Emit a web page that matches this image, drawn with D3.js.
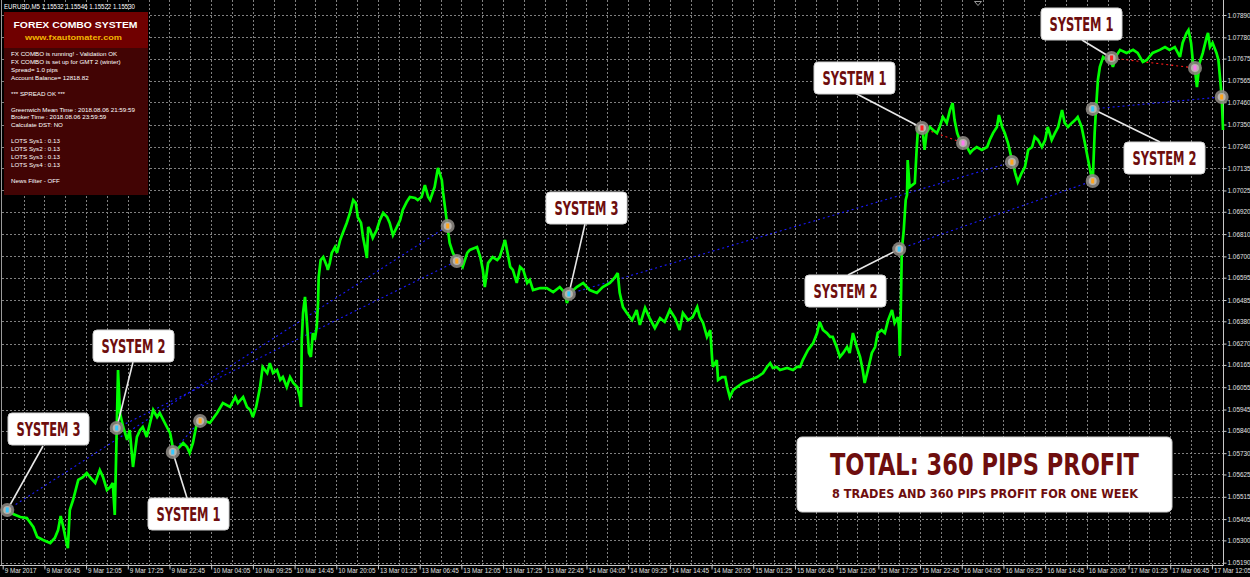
<!DOCTYPE html>
<html><head><meta charset="utf-8">
<script src="https://cdn.jsdelivr.net/npm/d3@7"></script>
<style>
html,body{margin:0;padding:0;background:#000;overflow:hidden}
svg{display:block}
</style></head><body>
<svg id="c" width="1250" height="577"></svg>
<script>
// ---------------- DATA ----------------
const symbolHeader = "EURUSD,M5  1.15532 1.15546 1.15522 1.15530";
const yTickValues = [1.07890,1.07780,1.07675,1.07565,1.07460,1.07350,1.07240,1.07135,1.07025,1.06920,1.06810,1.06700,1.06595,1.06485,1.06380,1.06270,1.06165,1.06055,1.05945,1.05840,1.05730,1.05625,1.05515,1.05405,1.05300,1.05190];
const xTickLabels = ["9 Mar 2017","9 Mar 06:45","9 Mar 12:05","9 Mar 17:25","9 Mar 22:45","10 Mar 04:05","10 Mar 09:25","10 Mar 14:45","10 Mar 20:05","13 Mar 01:25","13 Mar 06:45","13 Mar 12:05","13 Mar 17:25","13 Mar 22:45","14 Mar 04:05","14 Mar 09:25","14 Mar 14:45","14 Mar 20:05","15 Mar 01:25","15 Mar 06:45","15 Mar 12:05","15 Mar 17:25","15 Mar 22:45","16 Mar 04:05","16 Mar 09:25","16 Mar 14:45","16 Mar 20:05","17 Mar 01:25","17 Mar 06:45","17 Mar 12:05"];
const barsPerLabel = 64;     // M5 bars between time labels
const totalBars = 1873;      // bars visible in the window

// [bar index, price]
const priceSeries = [
[0,1.0544],[7,1.0545],[16,1.0543],[27,1.05415],[37,1.0541],[47,1.05366],[53,1.05317],[62,1.05302],[73,1.05287],[80,1.05312],
[85,1.05351],[89,1.0542],[93,1.05366],[97,1.05302],[100,1.05262],[103,1.0545],[108,1.05499],[116,1.05598],[123,1.05612],[129,1.05632],
[134,1.05612],[142,1.05583],[149,1.05647],[154,1.05612],[160,1.05548],[165,1.05563],[169,1.05583],[172,1.05425],[175,1.05844],[177,1.0614],
[180,1.05928],[185,1.05859],[191,1.05795],[195,1.05844],[200,1.05662],[206,1.0581],[211,1.05844],[215,1.05859],[221,1.0581],[231,1.05943],
[237,1.05908],[241,1.05928],[252,1.05859],[257,1.05829],[261,1.0576],[267,1.05746],[277,1.0578],[283,1.0576],[287,1.05731],[292,1.0578],
[298,1.05879],[307,1.05893],[318,1.05879],[329,1.05928],[338,1.05977],[349,1.05958],
[357,1.06007],[361,1.05977],[369,1.06007],[375,1.05958],[380,1.05943],[384,1.05908],[389,1.05958],[395,1.06056],[399,1.06155],[406,1.06125],
[410,1.06174],[415,1.06125],[421,1.0614],[426,1.06091],[430,1.06105],[436,1.06056],[441,1.06105],[446,1.06076],[452,1.06056],[456,1.06007],
[458,1.05958],[459,1.06288],[461,1.06421],[464,1.065],[467,1.06372],[470,1.06224],[473,1.06204],[476,1.06322],[479,1.06288],[482,1.06352],
[484,1.0647],[485,1.06598],[488,1.06682],[492,1.06697],[498,1.06648],[499,1.06633],[502,1.06667],[505,1.06717],[510,1.06746],[513,1.06717],
[518,1.06781],[522,1.06815],[528,1.06865],[533,1.06914],[538,1.06978],[542,1.06963],[545,1.06894],[550,1.06865],[553,1.06796],[556,1.06746],
[559,1.06692],[561,1.06845],[564,1.0683],[568,1.06791],[574,1.0683],[579,1.06879],[584,1.06914],[590,1.06894],[594,1.06865],[599,1.06805],
[605,1.06845],[610,1.06879],[614,1.06929],[620,1.06968],[625,1.06993],[633,1.06988],[637,1.06978],[643,1.06993],[648,1.07052],[653,1.06993],
[656,1.06978],[663,1.07042],[668,1.07136],[674,1.07077],[676,1.07013],[682,1.06865],[686,1.06766],[691,1.06717],[697,1.06682],[702,1.06667],
[706,1.06648],[713,1.06717],[717,1.06732],[728,1.06746],[733,1.06697],[737,1.06633],[740,1.06549],[745,1.06667],[752,1.06697],[759,1.06682],
[763,1.06697],[771,1.06781],[774,1.06732],[779,1.06648],[783,1.06633],[789,1.06569],[794,1.06648],[799,1.06633],[805,1.06569],[809,1.06584],
[814,1.06534],[825,1.06544],[835,1.06544],[845,1.06524],[855,1.06549],[863,1.0652],[866,1.0647],[871,1.0652],[881,1.06549],[891,1.06569],
[901,1.06534],[912,1.0652],[921,1.06549],[932,1.06569],[940,1.06598],[944,1.06618],[947,1.0652],[952,1.0645],[958,1.06421],
[966,1.06386],[973,1.06436],[978,1.06362],[986,1.06446],[993,1.06396],[1001,1.06347],[1009,1.06396],[1016,1.06377],[1024,1.06436],[1032,1.06396],[1039,1.06337],
[1044,1.06421],[1052,1.06386],[1059,1.06401],[1066,1.0645],[1070,1.06401],[1075,1.06372],[1081,1.06303],[1086,1.06337],[1089,1.06189],[1090,1.06155],
[1096,1.06189],[1098,1.06091],[1104,1.06105],[1109,1.06105],[1112,1.06056],[1116,1.06007],[1121,1.06041],[1127,1.06056],[1136,1.06076],[1147,1.06091],
[1158,1.06105],[1167,1.06125],[1173,1.06155],[1178,1.06174],[1182,1.0615],[1188,1.06155],[1193,1.0614],[1204,1.0615],[1213,1.0614],[1219,1.06155],
[1224,1.06155],[1228,1.06189],[1236,1.06239],[1244,1.06273],[1250,1.06322],[1254,1.06377],[1259,1.06337],[1265,1.06322],[1270,1.06303],[1274,1.06303],
[1280,1.06253],[1285,1.06204],[1290,1.06224],[1296,1.06253],[1300,1.06224],[1305,1.06322],[1311,1.06253],[1316,1.06204],[1320,1.0614],[1323,1.06076],
[1328,1.0614],[1334,1.06224],[1339,1.06253],[1343,1.06322],[1349,1.06337],[1354,1.06322],[1359,1.06386],[1365,1.06436],[1369,1.06372],[1374,1.06401],
[1376,1.06337],[1377,1.06209],[1379,1.06534],[1380,1.06732],[1383,1.0683],[1386,1.06978],[1388,1.07003],[1389,1.07175],[1392,1.07042],[1400,1.07062],
[1403,1.07239],[1405,1.07338],[1408,1.07308],[1411,1.07348],
[1415,1.07225],[1418,1.07308],[1423,1.07338],[1428,1.07323],[1434,1.07308],[1438,1.07338],[1443,1.07387],[1449,1.07358],[1454,1.07422],[1458,1.07456],
[1461,1.07372],[1465,1.07308],[1469,1.07274],[1474,1.07259],[1480,1.07239],[1485,1.0721],[1489,1.07225],[1495,1.07239],[1503,1.07225],[1511,1.07239],
[1515,1.07274],[1520,1.07308],[1526,1.07338],[1529,1.07397],[1534,1.07338],[1538,1.07308],[1543,1.07259],[1549,1.07175],[1554,1.07111],[1558,1.07067],
[1564,1.07111],[1569,1.07141],[1574,1.07225],[1580,1.07239],[1584,1.07289],[1589,1.07274],[1595,1.07239],[1600,1.07274],[1604,1.07338],[1610,1.07274],
[1615,1.07308],[1620,1.07338],[1626,1.07422],[1630,1.07358],[1635,1.07338],[1641,1.07358],[1646,1.07372],[1650,1.07387],[1656,1.07338],[1661,1.07259],
[1666,1.07175],[1670,1.07111],[1673,1.07067],[1676,1.07308],[1678,1.07422],[1681,1.0757],[1684,1.07634],[1689,1.07683],[1695,1.07668],[1699,1.07683],
[1704,1.07634],[1710,1.07693],[1715,1.07718],[1725,1.07703],[1735,1.07718],[1742,1.07703],[1750,1.07658],[1756,1.07668],[1765,1.07703],[1776,1.07718],
[1784,1.07732],[1791,1.07718],[1799,1.07732],[1807,1.07683],[1811,1.07752],[1817,1.07801],[1820,1.07816],[1824,1.07752],[1827,1.07653],[1830,1.07619],
[1833,1.07535],[1837,1.07653],[1842,1.07703],[1848,1.07782],[1850,1.07801],[1853,1.07732],[1857,1.07752],[1863,1.07703],[1866,1.07668],[1871,1.07486],[1873,1.07323]
];

// trades
const tradeSystem     = ["SYSTEM 3","SYSTEM 2","SYSTEM 1","SYSTEM 3","SYSTEM 2","SYSTEM 1","SYSTEM 2","SYSTEM 1"];
const tradeType       = ["buy","buy","buy","buy","buy","sell","buy","sell"];
const tradeOpenBar    = [7,175,261,869,1376,1411,1673,1702];
const tradeOpenPrice  = [1.0545,1.05854,1.05736,1.06515,1.06736,1.07333,1.07427,1.07678];
const tradeCloseBar   = [683,697,303,1549,1673,1474,1871,1830];
const tradeClosePrice = [1.0685,1.06677,1.05889,1.07165,1.07072,1.07259,1.07486,1.07629];

const totalTitle = "TOTAL: 360 PIPS PROFIT";
const totalSubtitle = "8 TRADES AND 360 PIPS PROFIT FOR ONE WEEK";

const panelTitle = "FOREX COMBO SYSTEM";
const panelUrl = "www.fxautomater.com";
const panelLines = ["FX COMBO is running! - Validation OK","FX COMBO is set up for GMT 2 (winter)","Spread= 1.0 pips","Account Balance= 12818.82","","*** SPREAD OK ***","","Greenwich Mean Time : 2018.08.06 21:59:59","Broker Time : 2018.08.06 23:59:59","Calculate DST: NO","","LOTS Sys1 : 0.13","LOTS Sys2 : 0.13","LOTS Sys3 : 0.13","LOTS Sys4 : 0.13","","News Filter - OFF"];

// ---------------- LAYOUT ----------------
const plotRight = 1223, plotBottom = 565;
const boxPos = [[8,413],[93,330],[148,498],[546,192],[805,275],[814,62],[1124,142],[1041,8]];
const boxAnchor = [[35,33],[40,32],[39,0],[39,32],[43,0],[41,31],[36,0],[41,32]];
const boxW = 81, boxH = 32;

const svg = d3.select("#c");
const x = d3.scaleLinear().domain([0,totalBars]).range([2.7,plotRight]);
const y = d3.scaleLinear().domain([1.05190,1.07890]).range([562.7,15]);

svg.append("rect").attr("width",1250).attr("height",577).attr("fill","#000");

const axisFont = "'Liberation Sans','Arial',sans-serif";
const gridCol = "#808080";

// horizontal grid
svg.append("g").selectAll("line").data(yTickValues).join("line")
  .attr("x1",2).attr("x2",plotRight)
  .attr("y1",d=>Math.round(y(d))+0.5).attr("y2",d=>Math.round(y(d))+0.5)
  .attr("stroke",gridCol).attr("stroke-width",1).attr("stroke-dasharray","2,2");

// vertical grid (every half label interval)
const vBars = d3.range(barsPerLabel/2, totalBars, barsPerLabel/2);
svg.append("g").selectAll("line").data(vBars).join("line")
  .attr("x1",d=>Math.round(x(d))+0.5).attr("x2",d=>Math.round(x(d))+0.5)
  .attr("y1",0).attr("y2",plotBottom)
  .attr("stroke",gridCol).attr("stroke-width",1).attr("stroke-dasharray","2,2");

// frame / axes
svg.append("line").attr("x1",plotRight+0.5).attr("x2",plotRight+0.5).attr("y1",0).attr("y2",plotBottom+0.5).attr("stroke","#c8c8c8");
svg.append("line").attr("x1",0).attr("x2",plotRight+0.5).attr("y1",plotBottom+0.5).attr("y2",plotBottom+0.5).attr("stroke","#c8c8c8");
svg.append("line").attr("x1",1.5).attr("x2",1.5).attr("y1",0).attr("y2",plotBottom).attr("stroke","#9a9a9a");

// right axis
const yAxis = d3.axisRight(y).tickValues(yTickValues).tickSize(3).tickFormat(d3.format(".5f"));
const gy = svg.append("g").attr("transform",`translate(${plotRight+0.5},0)`).call(yAxis);
gy.select(".domain").remove();
gy.selectAll(".tick line").attr("stroke","#c8c8c8");
gy.selectAll(".tick text").attr("x",4).attr("fill","#e0e0e0")
  .style("font-family",axisFont).style("font-size","6.4px");

// bottom axis
const xTickBars = xTickLabels.map((_,i)=>i*barsPerLabel);
const xAxis = d3.axisBottom(x).tickValues(xTickBars).tickSize(4).tickFormat((d,i)=>xTickLabels[i]);
const gx = svg.append("g").attr("transform",`translate(0,${plotBottom+0.5})`).call(xAxis);
gx.select(".domain").remove();
gx.selectAll(".tick line").attr("stroke","#c8c8c8");
gx.selectAll(".tick text").attr("text-anchor","start").attr("x",1.5).attr("y",3.5).attr("dy","0.71em")
  .attr("fill","#e0e0e0").style("font-family",axisFont).style("font-size","6.3px");

// trade lines
const tradeIdx = d3.range(tradeSystem.length);
svg.append("g").selectAll("line").data(tradeIdx).join("line")
  .attr("x1",i=>x(tradeOpenBar[i])).attr("y1",i=>y(tradeOpenPrice[i]))
  .attr("x2",i=>x(tradeCloseBar[i])).attr("y2",i=>y(tradeClosePrice[i]))
  .attr("stroke",i=>tradeType[i]==="buy"?"#1a1aff":"#ff1a1a")
  .attr("stroke-width",1.1).attr("stroke-dasharray","2,3");

// price path
const line = d3.line().x(d=>x(d[0])).y(d=>y(d[1]));
svg.append("path").datum(priceSeries).attr("d",line)
  .attr("fill","none").attr("stroke","#00ff00").attr("stroke-width",2.7)
  .attr("stroke-linejoin","miter").attr("stroke-miterlimit",3);

// leader lines
svg.append("g").selectAll("line").data(tradeIdx).join("line")
  .attr("x1",i=>boxPos[i][0]+boxAnchor[i][0]).attr("y1",i=>boxPos[i][1]+boxAnchor[i][1])
  .attr("x2",i=>x(tradeOpenBar[i])).attr("y2",i=>y(tradeOpenPrice[i]))
  .attr("stroke","#e8e8e8").attr("stroke-width",1.6);

// markers
const markers = [];
tradeIdx.forEach(i=>{
  markers.push({b:tradeOpenBar[i],p:tradeOpenPrice[i],c:tradeType[i]==="buy"?"#35c8ff":"#ff2020"});
  markers.push({b:tradeCloseBar[i],p:tradeClosePrice[i],c:tradeType[i]==="buy"?"#ffa51c":"#ff78f0"});
});
const mg = svg.append("g").selectAll("g").data(markers).join("g")
  .attr("transform",d=>`translate(${x(d.b)},${y(d.p)})`);
mg.append("circle").attr("r",7).attr("fill","#8a8580").attr("opacity",0.9);
mg.append("circle").attr("r",4).attr("fill","#b9b4ae");
mg.append("rect").attr("x",-1.5).attr("y",-2.5).attr("width",3).attr("height",5).attr("fill",d=>d.c);

// annotation boxes
const boxFont = "'Liberation Sans Narrow','DejaVu Sans Condensed','Liberation Sans',sans-serif";
const bg = svg.append("g").selectAll("g").data(tradeIdx).join("g")
  .attr("transform",i=>`translate(${boxPos[i][0]},${boxPos[i][1]})`);
bg.append("rect").attr("width",boxW).attr("height",boxH).attr("rx",4)
  .attr("fill","#ffffff").attr("stroke","#d0d0d0");
bg.append("text").attr("x",boxW/2).attr("y",23).attr("text-anchor","middle")
  .attr("textLength",64).attr("lengthAdjust","spacingAndGlyphs")
  .style("font-family",boxFont).style("font-weight","bold").style("font-size","19px")
  .attr("fill","#6e0e0e").text(i=>tradeSystem[i]);

// total box
const tg = svg.append("g");
tg.append("rect").attr("x",797).attr("y",437).attr("width",375).attr("height",75).attr("rx",5)
  .attr("fill","#ffffff").attr("stroke","#d0d0d0");
tg.append("text").attr("x",984.5).attr("y",475).attr("text-anchor","middle")
  .attr("textLength",309).attr("lengthAdjust","spacingAndGlyphs")
  .style("font-family",boxFont).style("font-weight","bold").style("font-size","30px")
  .attr("fill","#6e0e0e").text(totalTitle);
tg.append("text").attr("x",985).attr("y",498).attr("text-anchor","middle")
  .attr("textLength",306).attr("lengthAdjust","spacingAndGlyphs")
  .style("font-family",boxFont).style("font-weight","bold").style("font-size","13px")
  .attr("fill","#6e0e0e").text(totalSubtitle);

// top-left symbol header
svg.append("text").attr("x",4).attr("y",9).attr("textLength",131).attr("lengthAdjust","spacingAndGlyphs")
  .style("font-family",axisFont).style("font-size","6.5px").attr("fill","#ffffff").text(symbolHeader);

// info panel
const pg = svg.append("g");
pg.append("rect").attr("x",4).attr("y",12).attr("width",144).attr("height",183).attr("fill","#420404");
pg.append("rect").attr("x",4).attr("y",12).attr("width",144).attr("height",36).attr("fill","#700000");
pg.append("text").attr("x",75.5).attr("y",27.5).attr("text-anchor","middle")
  .attr("textLength",124).attr("lengthAdjust","spacingAndGlyphs")
  .style("font-family",axisFont).style("font-weight","bold").style("font-size","9.5px")
  .attr("fill","#ffffff").text(panelTitle);
pg.append("text").attr("x",73.5).attr("y",39.5).attr("text-anchor","middle")
  .attr("textLength",97).attr("lengthAdjust","spacingAndGlyphs")
  .style("font-family",axisFont).style("font-weight","bold").style("font-size","8px")
  .attr("fill","#f2b400").text(panelUrl);
pg.selectAll("text.l").data(panelLines).join("text").attr("class","l")
  .attr("x",11).attr("y",(d,i)=>56.2+i*7.9)
  .style("font-family",axisFont).style("font-size","6.2px").attr("fill","#ffffff").text(d=>d);

// shift marker at top
svg.append("path").attr("d","M974.5,1.5 L981.5,1.5 L978,5.5 Z").attr("fill","none").attr("stroke","#9a9a9a");
</script>
</body></html>
